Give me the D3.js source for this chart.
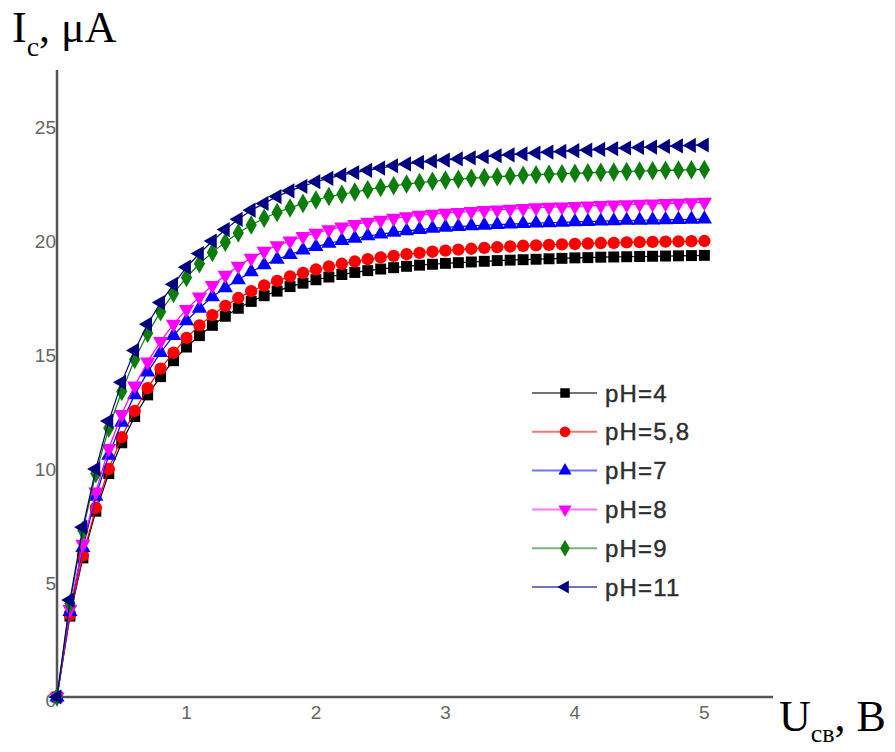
<!DOCTYPE html>
<html>
<head>
<meta charset="utf-8">
<script src="https://cdn.jsdelivr.net/npm/d3@7"></script>
<style>
  html, body { margin: 0; padding: 0; background: #fff; }
  svg { display: block; }
</style>
</head>
<body>
<svg id="chart" width="895" height="752"></svg>
<script>
// ---- data ----
const voltages = [0,0.1,0.2,0.3,0.4,0.5,0.6,0.7,0.8,0.9,1.0,1.1,1.2,1.3,1.4,1.5,1.6,1.7,1.8,1.9,2.0,
  2.1,2.2,2.3,2.4,2.5,2.6,2.7,2.8,2.9,3.0,3.1,3.2,3.3,3.4,3.5,3.6,3.7,3.8,3.9,4.0,
  4.1,4.2,4.3,4.4,4.5,4.6,4.7,4.8,4.9,5.0];

const seriesNames = ["pH=4", "pH=5,8", "pH=7", "pH=8", "pH=9", "pH=11"];

const pH4 = [0,3.55,6.1,8.15,9.8,11.15,12.3,13.25,14.05,14.75,15.35,15.85,16.3,16.7,17.05,17.35,17.6,17.8,18.0,18.15,18.3,
  18.42,18.53,18.62,18.7,18.77,18.83,18.89,18.94,18.98,19.02,19.05,19.08,19.11,19.14,19.16,19.18,19.2,19.22,19.24,19.26,
  19.27,19.29,19.3,19.31,19.32,19.33,19.34,19.35,19.36,19.37];
const pH58 = [0,3.6,6.2,8.3,10.0,11.4,12.55,13.55,14.4,15.1,15.75,16.3,16.75,17.15,17.5,17.8,18.05,18.25,18.45,18.6,18.75,
  18.88,19.0,19.1,19.2,19.28,19.35,19.42,19.48,19.53,19.58,19.62,19.66,19.7,19.73,19.76,19.79,19.81,19.83,19.85,19.87,
  19.89,19.91,19.92,19.94,19.95,19.96,19.97,19.98,19.99,20.0];
const pH7 = [0,3.75,6.55,8.8,10.6,12.05,13.25,14.25,15.1,15.85,16.5,17.05,17.55,17.95,18.3,18.65,18.95,19.2,19.4,19.6,19.75,
  19.9,20.02,20.12,20.22,20.3,20.38,20.44,20.5,20.55,20.6,20.63,20.66,20.69,20.72,20.74,20.76,20.78,20.8,20.82,20.84,
  20.85,20.87,20.88,20.9,20.91,20.92,20.93,20.94,20.95,20.96];
const pH8 = [0,3.85,6.7,9.0,10.9,12.4,13.65,14.7,15.6,16.35,17.0,17.55,18.05,18.5,18.9,19.25,19.55,19.8,20.0,20.2,20.35,
  20.5,20.62,20.73,20.83,20.92,21.0,21.07,21.13,21.18,21.22,21.26,21.3,21.34,21.37,21.4,21.43,21.46,21.48,21.5,21.52,
  21.54,21.56,21.58,21.6,21.62,21.63,21.65,21.66,21.68,21.7];
const pH9 = [0,4.1,7.3,9.8,11.8,13.4,14.8,15.95,16.9,17.7,18.4,19.0,19.5,19.95,20.35,20.7,21.0,21.25,21.45,21.65,21.8,
  21.95,22.05,22.15,22.25,22.35,22.42,22.5,22.56,22.62,22.67,22.71,22.75,22.79,22.82,22.85,22.88,22.91,22.93,22.95,22.97,
  22.99,23.01,23.03,23.05,23.07,23.08,23.1,23.11,23.13,23.14];
const pH11 = [0,4.25,7.45,10.0,12.1,13.8,15.2,16.35,17.3,18.1,18.85,19.45,20.0,20.5,20.95,21.35,21.65,21.95,22.2,22.4,22.6,
  22.75,22.9,23.0,23.1,23.2,23.3,23.38,23.45,23.5,23.55,23.6,23.65,23.7,23.74,23.78,23.82,23.86,23.9,23.93,23.96,
  23.99,24.02,24.05,24.08,24.1,24.12,24.15,24.17,24.19,24.21];

// the origin "0" is shared by both axes, so it is drawn once (with the y ticks)
const xTicks = [1, 2, 3, 4, 5];
const yTicks = [0, 5, 10, 15, 20, 25];

// ---- styles ----
const colors = ["#000000", "#ff0000", "#0000ff", "#ff00ff", "#0a7d0a", "#000080"];
const symbols = [
  {type: d3.symbolSquare, size: 120, rot: 0},
  {type: d3.symbolCircle, size: 120, rot: 0},
  {type: d3.symbolTriangle, size: 100, rot: 0},
  {type: d3.symbolTriangle, size: 100, rot: 180},
  {type: d3.symbolDiamond, size: 110, rot: 0},
  {type: d3.symbolTriangle, size: 100, rot: -90}
];
const allSeries = [pH4, pH58, pH7, pH8, pH9, pH11];

const svg = d3.select("#chart");
const x = d3.scaleLinear().domain([0, 5.53]).range([57, 773]);
const y = d3.scaleLinear().domain([0, 27.5]).range([697, 70]);

// axes lines
const axisColor = "#555";
svg.append("line").attr("x1", x(0)).attr("x2", x(0)).attr("y1", y(27.5)).attr("y2", y(0))
  .attr("stroke", axisColor).attr("stroke-width", 2.5);
svg.append("line").attr("x1", x(0)).attr("x2", x(5.53)).attr("y1", y(0)).attr("y2", y(0))
  .attr("stroke", axisColor).attr("stroke-width", 2.5);

// tick labels
const tickFont = "Liberation Sans, Arial, sans-serif";
svg.append("g").selectAll("text").data(yTicks).join("text")
  .attr("x", x(0) - 1).attr("y", d => y(d) + (d === 0 ? 10 : 7))
  .attr("text-anchor", "end").attr("font-family", tickFont).attr("font-size", 19)
  .attr("fill", "#666").text(d => d);
svg.append("g").selectAll("text").data(xTicks).join("text")
  .attr("x", d => x(d)).attr("y", y(0) + 22)
  .attr("text-anchor", "middle").attr("font-family", tickFont).attr("font-size", 19)
  .attr("fill", "#666").text(d => d);

// series
const line = d3.line().x((d, i) => x(voltages[i])).y(d => y(d));
allSeries.forEach((vals, k) => {
  const g = svg.append("g");
  g.append("path").datum(vals).attr("d", line).attr("fill", "none")
    .attr("stroke", colors[k]).attr("stroke-width", 1.2);
  const sym = d3.symbol().type(symbols[k].type).size(symbols[k].size);
  g.selectAll("path.m").data(vals).join("path").attr("class", "m")
    .attr("d", sym)
    .attr("transform", (d, i) => `translate(${x(voltages[i])},${y(d)}) rotate(${symbols[k].rot})`)
    .attr("fill", colors[k]);
});

// legend
const legend = svg.append("g");
seriesNames.forEach((name, k) => {
  const ly = 393 + k * 38.8;
  legend.append("line").attr("x1", 532).attr("x2", 597).attr("y1", ly).attr("y2", ly)
    .attr("stroke", colors[k]).attr("stroke-opacity", 0.55).attr("stroke-width", 2);
  const sym = d3.symbol().type(symbols[k].type).size(symbols[k].size * 0.75);
  legend.append("path").attr("d", sym)
    .attr("transform", `translate(565,${ly}) rotate(${symbols[k].rot})`)
    .attr("fill", colors[k]);
  legend.append("text").attr("x", 605).attr("y", ly + 8.5)
    .attr("font-family", tickFont).attr("font-size", 24).attr("letter-spacing", 1.2)
    .attr("fill", "#2e2e2e").attr("stroke", "#2e2e2e").attr("stroke-width", 0.4).text(name);
});

// axis titles
const serif = "Liberation Serif, Times New Roman, serif";
const yt = svg.append("text").attr("x", 12).attr("y", 42)
  .attr("font-family", serif).attr("font-size", 44).attr("fill", "#000");
yt.append("tspan").text("I");
yt.append("tspan").attr("font-size", 28).attr("dy", 14).text("c");
yt.append("tspan").attr("dy", -14).text(", μA");

const xt = svg.append("text").attr("x", 779).attr("y", 731)
  .attr("font-family", serif).attr("font-size", 44).attr("fill", "#000");
xt.append("tspan").text("U");
xt.append("tspan").attr("font-size", 26).attr("dy", 11).text("св");
xt.append("tspan").attr("dy", -11).text(", В");
</script>
</body>
</html>
